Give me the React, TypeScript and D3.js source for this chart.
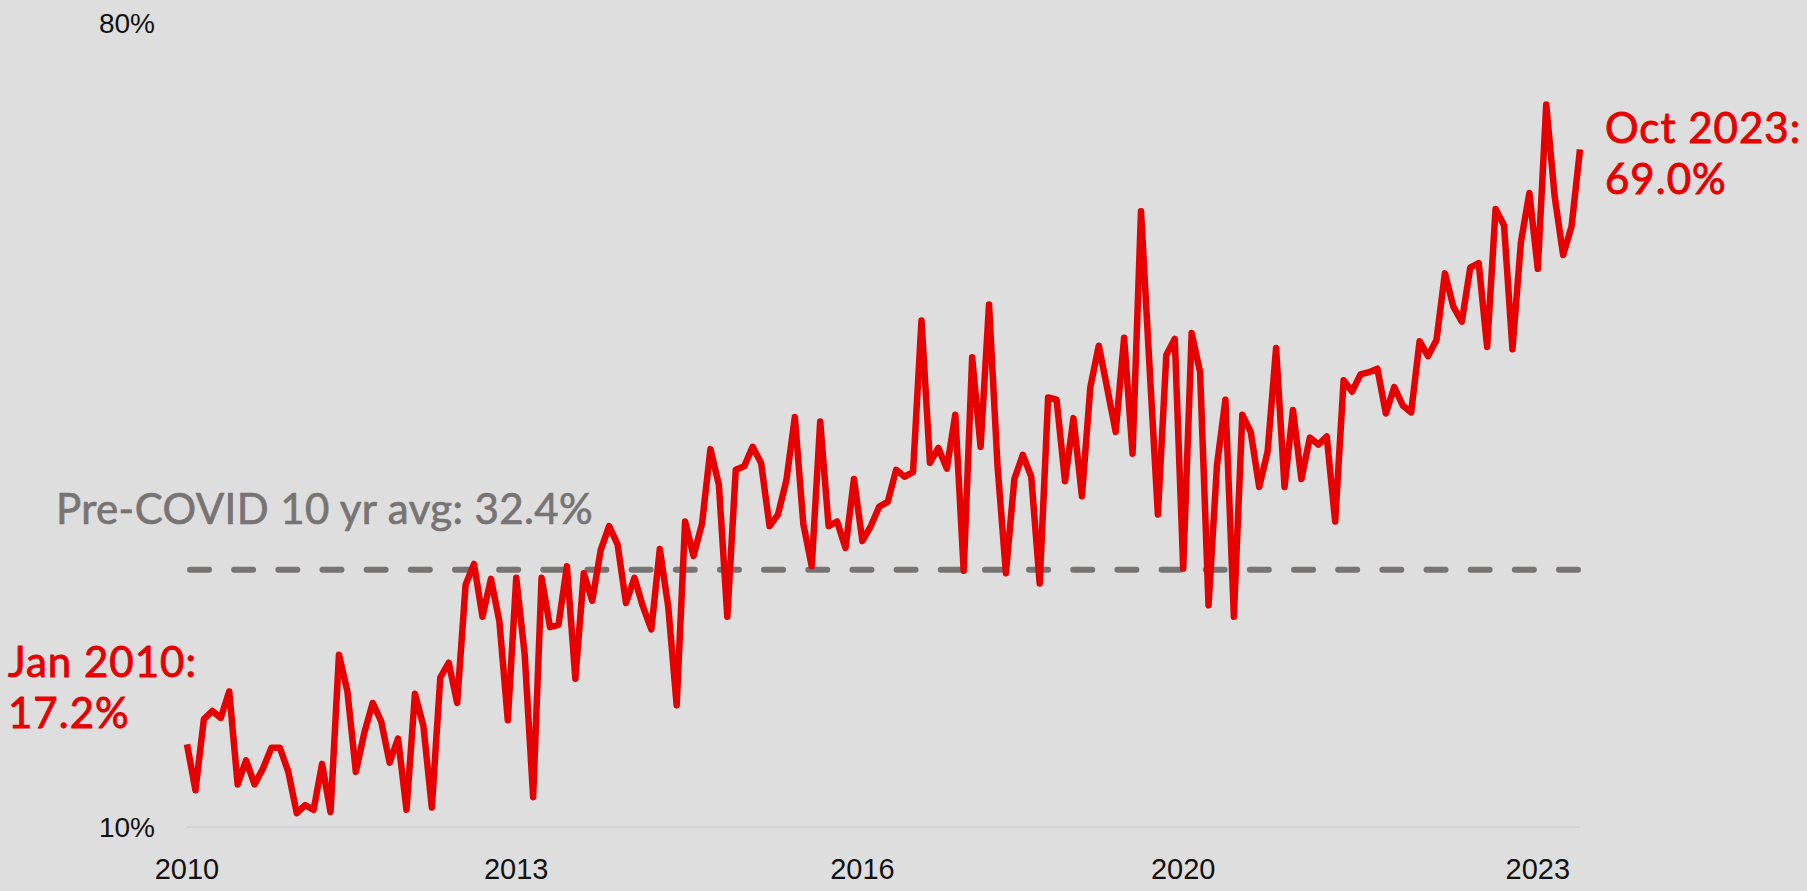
import React, { useEffect, useRef } from 'react';
import * as d3 from 'd3';

// monthly share, Jan 2010 .. Oct 2023 (%)
const values = [
  17.2, 13.2, 19.4, 20.1, 19.5, 21.8, 13.7, 15.8, 13.7, 15.1, 16.9, 16.9,
  14.8, 11.2, 11.9, 11.5, 15.5, 11.3, 25.0, 21.8, 14.8, 18.2, 20.8, 19.2,
  15.6, 17.7, 11.5, 21.6, 18.8, 11.7, 23.0, 24.3, 20.8, 31.1, 32.9, 28.3,
  31.6, 27.9, 19.3, 31.7, 25.0, 12.6, 31.7, 27.4, 27.6, 32.7, 22.9, 32.1,
  29.7, 34.1, 36.2, 34.6, 29.5, 31.7, 29.2, 27.2, 34.2, 29.2, 20.6, 36.6,
  33.6, 36.4, 42.9, 39.8, 28.3, 41.1, 41.4, 43.1, 41.7, 36.2, 37.2, 40.2,
  45.7, 36.4, 32.7, 45.3, 36.2, 36.6, 34.3, 40.3, 34.9, 36.2, 37.9, 38.3,
  41.1, 40.5, 40.9, 54.1, 41.7, 43.0, 41.2, 45.9, 32.3, 50.9, 43.1, 55.5,
  41.5, 32.1, 40.3, 42.4, 40.5, 31.2, 47.4, 47.2, 40.1, 45.6, 38.8, 48.3,
  51.9, 48.2, 44.4, 52.6, 42.5, 63.6, 50.2, 37.2, 51.1, 52.5, 32.5, 53.0,
  49.6, 29.3, 41.5, 47.2, 28.3, 45.9, 44.4, 39.6, 42.7, 51.7, 39.6, 46.3,
  40.3, 43.9, 43.3, 44.0, 36.6, 48.9, 47.9, 49.4, 49.6, 49.9, 46.0, 48.3,
  46.7, 46.1, 52.3, 51.0, 52.4, 58.2, 55.3, 54.0, 58.7, 59.1, 51.8, 63.8,
  62.4, 51.6, 60.9, 65.2, 58.6, 72.9, 64.9, 59.8, 62.3, 69.0,
];

const tickLabels = ['2010', '2013', '2016', '2020', '2023'];
const tickMonths = [0, 39, 80, 118, 160]; // month offsets where the year labels sit
const yTicks = [10, 80];
const preCovidAvg = 32.4;
const avgLabel = 'Pre-COVID 10 yr avg: 32.4%';
const firstLabel = ['Jan 2010:', '17.2%'];
const lastLabel = ['Oct 2023:', '69.0%'];

const width = 1807;
const height = 891;
const red = '#e60000';
const grey = '#787474';
const noteFont = 'Lato, "Noto Sans", sans-serif';

export default function App() {
  const ref = useRef<SVGSVGElement>(null);

  useEffect(() => {
    document.body.style.margin = '0';
    document.body.style.background = '#dedede';

    const svg = d3.select(ref.current);
    svg.selectAll('*').remove();

    const x = d3.scaleLinear().domain([0, values.length - 1]).range([187, 1580]);
    const y = d3.scaleLinear().domain([10, 80]).range([827, 23]);

    // baseline
    svg
      .append('line')
      .attr('x1', x(0))
      .attr('x2', x(values.length - 1))
      .attr('y1', y(10))
      .attr('y2', y(10))
      .attr('stroke', '#d3d3d3')
      .attr('stroke-width', 2);

    // y labels
    svg
      .append('g')
      .selectAll('text')
      .data(yTicks)
      .join('text')
      .attr('x', 155)
      .attr('y', (d) => y(d))
      .attr('dy', '0.36em')
      .attr('text-anchor', 'end')
      .attr('font-family', '"Liberation Sans", Arial, sans-serif')
      .attr('font-size', 28)
      .attr('fill', '#111')
      .text((d) => `${d}%`);

    // x labels
    svg
      .append('g')
      .selectAll('text')
      .data(tickLabels)
      .join('text')
      .attr('x', (d, i) => x(tickMonths[i]))
      .attr('y', 879)
      .attr('text-anchor', 'middle')
      .attr('font-family', '"Liberation Sans", Arial, sans-serif')
      .attr('font-size', 29)
      .attr('fill', '#111')
      .text((d) => d);

    // pre-covid average, 32 dashes across the plot
    const x1 = x(0) + 3;
    const x2 = x(values.length - 1) - 2;
    const dash = 19;
    const gap = (x2 - x1 - 32 * dash) / 31;
    svg
      .append('line')
      .attr('x1', x1)
      .attr('x2', x2)
      .attr('y1', y(preCovidAvg))
      .attr('y2', y(preCovidAvg))
      .attr('stroke', grey)
      .attr('stroke-width', 6)
      .attr('stroke-linecap', 'round')
      .attr('stroke-dasharray', `${dash} ${gap}`);

    svg
      .append('text')
      .attr('x', 56)
      .attr('y', 524)
      .attr('font-family', noteFont)
      .attr('font-size', 42)
      .attr('letter-spacing', 0.4)
      .attr('fill', grey)
      .attr('stroke', grey)
      .attr('stroke-width', 0.7)
      .text(avgLabel);

    // series
    const line = d3
      .line<number>()
      .x((d, i) => x(i))
      .y((d) => y(d));

    svg
      .append('path')
      .attr('fill', 'none')
      .attr('stroke', red)
      .attr('stroke-width', 6.5)
      .attr('stroke-linejoin', 'round')
      .attr('d', line(values));

    // end annotations
    const note = (lines: string[], x0: number, y0: number) =>
      svg
        .append('text')
        .attr('font-family', noteFont)
        .attr('font-size', 42)
        .attr('letter-spacing', 1)
        .attr('fill', red)
        .attr('stroke', red)
        .attr('stroke-width', 0.9)
        .selectAll('tspan')
        .data(lines)
        .join('tspan')
        .attr('x', x0)
        .attr('y', (d, i) => y0 + i * 51)
        .text((d) => d);

    note(firstLabel, 8, 677);
    note(lastLabel, 1605, 143);
  }, []);

  return <svg ref={ref} width={width} height={height} style={{ display: 'block', background: '#dedede' }} />;
}
